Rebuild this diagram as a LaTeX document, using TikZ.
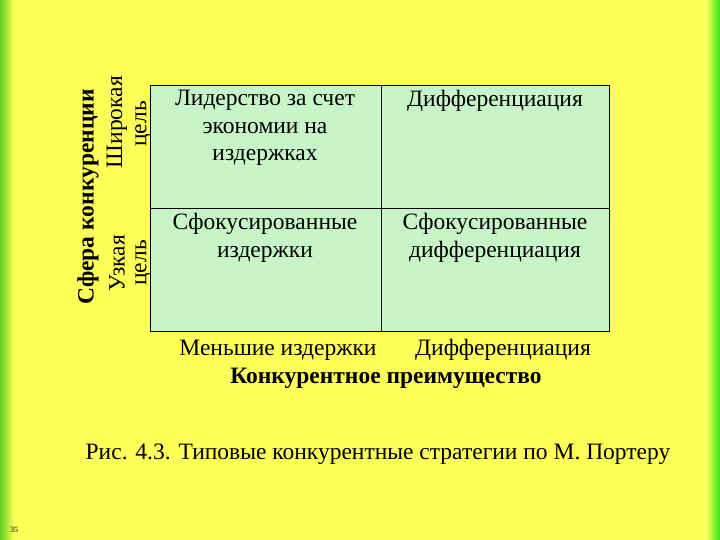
\documentclass[tikz,border=0pt]{standalone}
\usepackage{fontspec}
\setmainfont{Liberation Serif}
\newcommand\fsz{\fontsize{23.5}{27.5}\selectfont}
\begin{document}
\begin{tikzpicture}[x=1pt,y=-1pt,
  cell/.style={anchor=north,align=center,font=\fsz},
  lbl/.style={font=\fsz}]
\useasboundingbox (0,0) rectangle (720,540);
\fill[fill={rgb,255:red,255;green,255;blue,90}] (0,0) rectangle (720,540);
\shade[left color={rgb,255:red,100;green,210;blue,30}, right color={rgb,255:red,255;green,255;blue,90}] (0,0) rectangle (14,540);
\shade[right color={rgb,255:red,40;green,230;blue,20}, left color={rgb,255:red,255;green,255;blue,90}] (706,0) rectangle (720,540);
\fill[fill={rgb,255:red,200;green,245;blue,200}, draw=black, line width=0.8pt] (150,85) rectangle (609,331);
\draw[line width=0.8pt] (381,85) -- (381,331) (150,208) -- (609,208);
\node[cell] (a) at (265,87) {Лидерство за счет\\экономии на\\издержках};
\node[cell] (b) at (495,87) {Дифференциация};
\node[cell] (c) at (265,210) {Сфокусированные\\издержки};
\node[cell] (d) at (495,210) {Сфокусированные\\дифференциация};
\node[lbl,rotate=90,font=\fsz\bfseries] (s) at (88,197) {Сфера конкуренции};
\node[lbl,rotate=90] (w) at (117,122) {Широкая};
\node[lbl,rotate=90] (w2) at (143,124) {цель};
\node[lbl,rotate=90] (n) at (117,263) {Узкая};
\node[lbl,rotate=90] (n2) at (143,263) {цель};
\node[lbl] (l) at (278,350) {Меньшие издержки};
\node[lbl] (r) at (503,350) {Дифференциация};
\node[lbl,font=\fsz\bfseries] (k) at (386,378) {Конкурентное преимущество};
\node[lbl] (cap) at (378,454) {Рис. 4.3. Типовые конкурентные стратегии по М. Портеру};
\node[font=\fontsize{8}{9}\selectfont] (p) at (14,530) {35};
\end{tikzpicture}
\end{document}
